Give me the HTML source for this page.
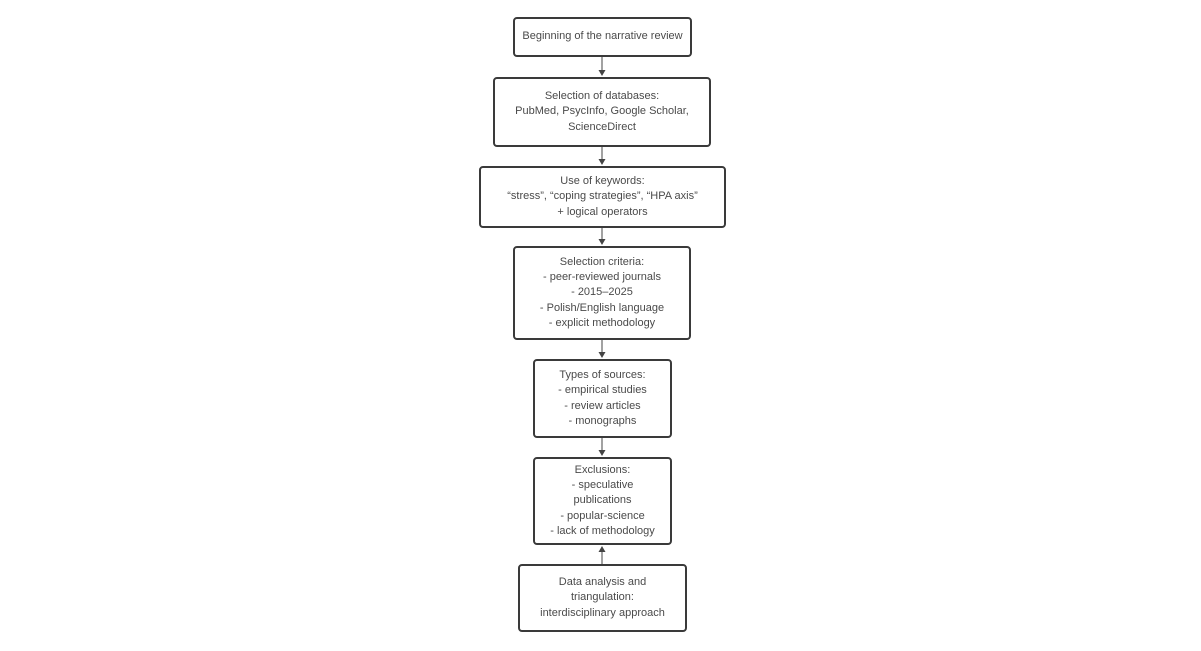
<!DOCTYPE html>
<html><head><style>
body{margin:0;width:1201px;height:651px;background:#fff;position:relative;overflow:hidden;font-family:"Liberation Sans",sans-serif}
.b{position:absolute;box-sizing:border-box;border:2px solid #3a3a3a;border-radius:4px;display:flex;align-items:center;justify-content:center;text-align:center;font-size:11px;line-height:15.3px;color:#4a4a4a}
</style></head><body>
<div class="b" style="left:513px;top:17px;width:179px;height:40px">Beginning of the narrative review</div>
<div class="b" style="left:493px;top:77px;width:218px;height:70px">Selection of databases:<br>PubMed, PsycInfo, Google Scholar,<br>ScienceDirect</div>
<div class="b" style="left:479px;top:166px;width:247px;height:62px">Use of keywords:<br>“stress”, “coping strategies”, “HPA axis”<br>+ logical operators</div>
<div class="b" style="left:513px;top:246px;width:178px;height:94px">Selection criteria:<br>- peer-reviewed journals<br>- 2015–2025<br>- Polish/English language<br>- explicit methodology</div>
<div class="b" style="left:533px;top:359px;width:139px;height:79px">Types of sources:<br>- empirical studies<br>- review articles<br>- monographs</div>
<div class="b" style="left:533px;top:457px;width:139px;height:88px">Exclusions:<br>- speculative<br>publications<br>- popular-science<br>- lack of methodology</div>
<div class="b" style="left:518px;top:564px;width:169px;height:68px">Data analysis and<br>triangulation:<br>interdisciplinary approach</div>
<svg width="1201" height="651" style="position:absolute;left:0;top:0" stroke="#444" fill="#444">
<line x1="602" y1="57" x2="602" y2="72"/><path d="M598.5 70h7l-3.5 6z" stroke="none"/>
<line x1="602" y1="147" x2="602" y2="161"/><path d="M598.5 159h7l-3.5 6z" stroke="none"/>
<line x1="602" y1="228" x2="602" y2="241"/><path d="M598.5 239h7l-3.5 6z" stroke="none"/>
<line x1="602" y1="340" x2="602" y2="354"/><path d="M598.5 352h7l-3.5 6z" stroke="none"/>
<line x1="602" y1="438" x2="602" y2="452"/><path d="M598.5 450h7l-3.5 6z" stroke="none"/>
<line x1="602" y1="550" x2="602" y2="564"/><path d="M598.5 552h7l-3.5 -6z" stroke="none"/>
</svg>
</body></html>
